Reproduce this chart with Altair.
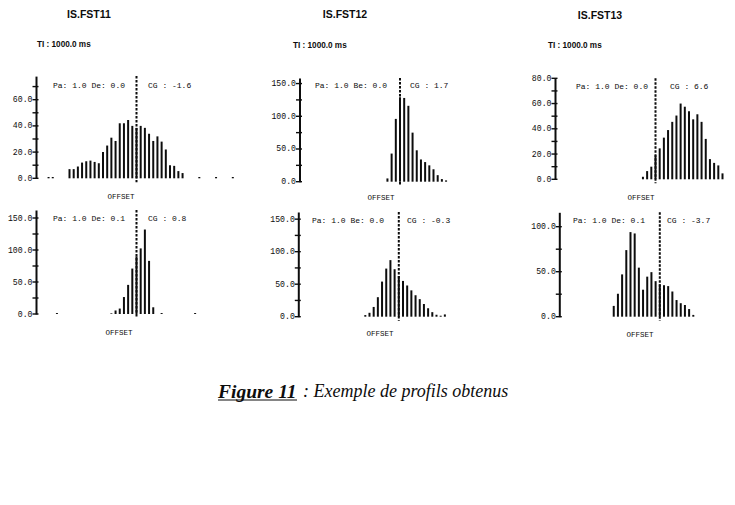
import altair as alt
import pandas as pd

# ---------------- data ----------------
P1_OFFSETS = [-16, -15, -14, -13, -12, -11, -10, -9, -8, -7, -6, -5, -4, -3, -2, -1, 0, 1, 2, 3, 4, 5, 6, 7, 8, 9, 10, 11]
P1_COUNTS = [7, 7, 9, 12, 13, 13.5, 12.5, 11.5, 20, 25, 31, 28.5, 42, 42, 44.5, 40, 38.5, 40, 38.5, 34, 28.5, 32, 28, 22, 10, 9.5, 5.5, 4]
P1_SPECK_OFFSETS = [-21, -20, 15, 19, 23]
P1_SPECK_COUNTS = [1, 1, 1, 1, 1]

P2_OFFSETS = [-3, -2, -1, 0, 1, 2, 3, 4, 5, 6, 7, 8, 9, 10, 11]
P2_COUNTS = [5, 43, 96, 129, 128, 116, 75, 48, 34, 30, 25, 19, 10, 4, 2]

P3_OFFSETS = [-3, -2, -1, 0, 1, 2, 3, 4, 5, 6, 7, 8, 9, 10, 11, 12, 13, 14, 15, 16]
P3_COUNTS = [2, 6.5, 10, 19, 24.5, 33, 39, 45.5, 50.5, 60, 57.5, 54, 47.5, 51.5, 45.5, 32, 16, 13, 11, 4.7]

P4_OFFSETS = [-6, -5, -4, -3, -2, -1, 0, 1, 2, 3, 4]
P4_COUNTS = [1, 5.5, 8.5, 26.5, 45.5, 71, 90, 102.5, 132, 83, 10.5]
P4_SPECK_OFFSETS = [-19, 6, 14]
P4_SPECK_COUNTS = [1.5, 1.5, 1.5]

P5_OFFSETS = [-8, -7, -6, -5, -4, -3, -2, -1, 0, 1, 2, 3, 4, 5, 6, 7, 8, 9, 10, 11]
P5_COUNTS = [2.5, 6, 15, 30, 54, 74, 87, 73, 62.5, 55, 48, 40.5, 33, 27, 19.5, 13, 7, 3, 1.5, 3.5]

P6_OFFSETS = [-11, -10, -9, -8, -7, -6, -5, -4, -3, -2, -1, 0, 1, 2, 3, 4, 5, 6, 7, 8]
P6_COUNTS = [12, 25.5, 47, 74, 94, 92.5, 54.5, 30, 44.5, 49.5, 39.5, 36, 35, 34, 28, 18.5, 15, 13, 8.5, 2]

MARKER_OFFSET = [0]          # dashed reference line
X_DOMAIN = [-24, 24]

P1_YMAX, P2_YMAX, P3_YMAX = 78, 158.5, 80
P4_YMAX, P5_YMAX, P6_YMAX = 162.5, 161, 116
LABELS_20 = [0, 20, 40, 60]
LABELS_20_80 = [0, 20, 40, 60, 80]
LABELS_50 = [0, 50, 100, 150]
LABELS_50_100 = [0, 50, 100]
TICKS_10_70 = [0, 10, 20, 30, 40, 50, 60, 70]
TICKS_10_80 = [0, 10, 20, 30, 40, 50, 60, 70, 80]
TICKS_25_150 = [0, 25, 50, 75, 100, 125, 150]
TICKS_25_100 = [0, 25, 50, 75, 100]

TITLES = ["IS.FST11", "IS.FST12", "IS.FST13"]
TI_TEXT = "TI : 1000.0 ms"
PA_TEXTS = ["Pa: 1.0 De: 0.0", "Pa: 1.0 Be: 0.0", "Pa: 1.0 De: 0.0",
            "Pa: 1.0 De: 0.1", "Pa: 1.0 Be: 0.0", "Pa: 1.0 De: 0.1"]
CG_TEXTS = ["CG : -1.6", "CG : 1.7", "CG : 6.6", "CG : 0.8", "CG : -0.3", "CG : -3.7"]
X_LABEL = "OFFSET"
CAPTION_BOLD = "Figure 11"
CAPTION_REST = ": Exemple de profils obtenus"

# ---------------- layout / style ----------------
MONO = "Liberation Mono"
SANS = "Liberation Sans"
SERIF = "Liberation Serif"
INK = "#0d0d0d"
COL_W = [262, 258, 215]
ROW_H = [200, 305]

LAYOUT = [
    dict(ax=36, base=178.3, top=76.1, title=(89, 15), ti=(37, 45), pa=(53, 86), cg=(148, 86), off=(121, 197)),
    dict(ax=37.5, base=181.7, top=78.0, title=(83, 15), ti=(31, 46), pa=(53, 86), cg=(148, 86), off=(119, 198)),
    dict(ax=35, base=179.3, top=78.3, title=(80, 16), ti=(28, 46), pa=(56, 87), cg=(150, 87), off=(121, 198)),
    dict(ax=36, base=114.0, top=10.0, pa=(53, 19), cg=(148, 19), off=(119, 133)),
    dict(ax=36.3, base=116.7, top=12.0, pa=(50, 21), cg=(145, 21), off=(118, 134),
         cap_bold=(-44, 192), cap_rest=(41, 192), cap_line=(-44, 35, 200)),
    dict(ax=39.3, base=116.7, top=12.3, pa=(53, 21), cg=(147, 21), off=(120, 135)),
]


def text_layer(txt, pos, font, size, align="left", weight="normal", style="normal"):
    return alt.Chart(pd.DataFrame({"t": [txt]})).mark_text(
        align=align, baseline="middle", font=font, fontSize=size,
        fontWeight=weight, fontStyle=style, color=INK
    ).encode(x=alt.value(pos[0]), y=alt.value(pos[1]), text="t:N")


def panel(i, offsets, counts, ymax, labels, ticks, width, height,
          speck_offsets=None, speck_counts=None):
    L = LAYOUT[i]
    ax = L["ax"]
    xs = alt.Scale(domain=X_DOMAIN, range=[ax, ax + 201])
    ys = alt.Scale(domain=[0, ymax], range=[L["base"], L["top"]])
    yaxis = alt.Axis(values=labels, format=".1f", ticks=False, grid=False,
                     domainColor=INK, domainWidth=2, labelFont=MONO,
                     labelFontSize=8.2, labelColor=INK, labelPadding=4,
                     offset=-ax, title=None)
    all_off = list(offsets) + list(speck_offsets or [])
    all_cnt = list(counts) + list(speck_counts or [])
    df = pd.DataFrame({"offset": all_off, "count": all_cnt})
    bars = alt.Chart(df).mark_rule(strokeWidth=2, color=INK, strokeCap="butt").encode(
        x=alt.X("offset:Q", scale=xs, axis=None),
        y=alt.Y("count:Q", scale=ys, axis=yaxis),
        y2=alt.datum(0),
    )
    below = -4.0 * ymax / (L["base"] - L["top"])
    dashed = alt.Chart(pd.DataFrame({"m": MARKER_OFFSET})).mark_rule(
        strokeWidth=2, strokeDash=[2.5, 1.5], color=INK
    ).encode(
        x=alt.X("m:Q", scale=xs, axis=None),
        y=alt.datum(ymax, scale=ys, axis=yaxis),
        y2=alt.datum(below),
    )
    tick_marks = alt.Chart(pd.DataFrame({"v": ticks})).mark_rule(
        strokeWidth=1.4, color=INK
    ).encode(
        x=alt.value(ax - 3.5), x2=alt.value(ax + 2.5),
        y=alt.Y("v:Q", scale=ys, axis=yaxis),
    )
    layers = [bars, dashed, tick_marks,
              text_layer(PA_TEXTS[i], L["pa"], MONO, 8),
              text_layer(CG_TEXTS[i], L["cg"], MONO, 8),
              text_layer(X_LABEL, L["off"], MONO, 7.5, align="center")]
    if "title" in L:
        layers.append(text_layer(TITLES[i], L["title"], SANS, 10.5, align="center", weight="bold"))
        layers.append(text_layer(TI_TEXT, L["ti"], SANS, 8.2, weight="bold"))
    if "cap_bold" in L:
        layers.append(text_layer(CAPTION_BOLD, L["cap_bold"], SERIF, 19.5, weight="bold", style="italic"))
        layers.append(text_layer(CAPTION_REST, L["cap_rest"], SERIF, 18, style="italic"))
        x0, x1, yl = L["cap_line"]
        layers.append(alt.Chart(pd.DataFrame({"u": [0]})).mark_rule(strokeWidth=1.2, color=INK).encode(
            x=alt.value(x0), x2=alt.value(x1), y=alt.value(yl)))
    return alt.layer(*layers).properties(width=width, height=height)


p1 = panel(0, P1_OFFSETS, P1_COUNTS, P1_YMAX, LABELS_20, TICKS_10_70, COL_W[0], ROW_H[0],
           P1_SPECK_OFFSETS, P1_SPECK_COUNTS)
p2 = panel(1, P2_OFFSETS, P2_COUNTS, P2_YMAX, LABELS_50, TICKS_25_150, COL_W[1], ROW_H[0])
p3 = panel(2, P3_OFFSETS, P3_COUNTS, P3_YMAX, LABELS_20_80, TICKS_10_80, COL_W[2], ROW_H[0])
p4 = panel(3, P4_OFFSETS, P4_COUNTS, P4_YMAX, LABELS_50, TICKS_25_150, COL_W[0], ROW_H[1],
           P4_SPECK_OFFSETS, P4_SPECK_COUNTS)
p5 = panel(4, P5_OFFSETS, P5_COUNTS, P5_YMAX, LABELS_50, TICKS_25_150, COL_W[1], ROW_H[1])
p6 = panel(5, P6_OFFSETS, P6_COUNTS, P6_YMAX, LABELS_50_100, TICKS_25_100, COL_W[2], ROW_H[1])

chart = alt.concat(p1, p2, p3, p4, p5, p6, columns=3, spacing=0,
                   bounds="flush", padding=0,
                   background="white").configure_view(stroke=None)

chart.save("out.html", embed_options={"renderer": "svg", "actions": False})
